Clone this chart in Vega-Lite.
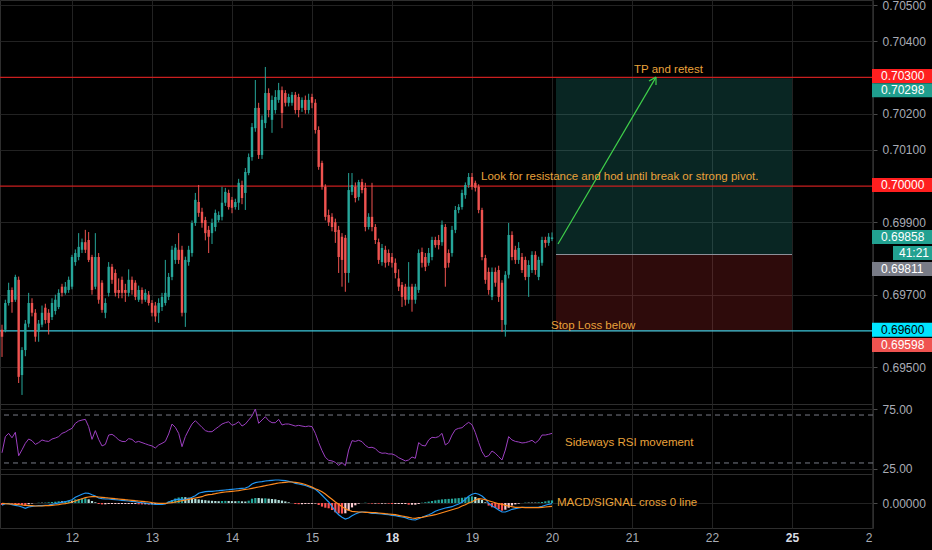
{
  "$schema": "https://vega.github.io/schema/vega-lite/v6.json",
  "background": "#000000",
  "padding": {"left": -2, "top": -2, "right": 0, "bottom": 0},
  "spacing": 0,
  "bounds": "flush",
  "config": {
    "view": {"stroke": "#2e2e2e"},
    "scale": {"continuousPadding": 0},
    "axis": {"labelColor": "#a9acb5", "labelFont": "Liberation Sans", "labelFontSize": 12, "gridColor": "#222222", "tickColor": "#4a4a4a", "domain": false},
    "text": {"font": "Liberation Sans"}
  },
  "datasets": {
    "bars": [
      {"t":-21,"o":0.69603,"h":0.69617,"l":0.69528,"c":0.69584,"r":38.5,"m":-0.000023,"s":-0.000003,"hv":-0.00002,"hc":"r"},
      {"t":-20,"o":0.69603,"h":0.69686,"l":0.69596,"c":0.69677,"r":52,"m":-0.000007,"s":-0.000007,"hv":0,"hc":"g"},
      {"t":-19,"o":0.69677,"h":0.69733,"l":0.6967,"c":0.69713,"r":54.7,"m":-0.000007,"s":-0.000008,"hv":0.000001,"hc":"g"},
      {"t":-18,"o":0.69713,"h":0.6972,"l":0.6965,"c":0.6968,"r":51,"m":-0.000017,"s":-0.00001,"hv":-0.000007,"hc":"r"},
      {"t":-17,"o":0.69686,"h":0.69755,"l":0.6968,"c":0.69749,"r":55.6,"m":-0.000023,"s":-0.000013,"hv":-0.00001,"hc":"r"},
      {"t":-16,"o":0.69741,"h":0.6975,"l":0.69456,"c":0.69473,"r":36,"m":-0.00003,"s":-0.000017,"hv":-0.000013,"hc":"r"},
      {"t":-15,"o":0.69478,"h":0.69555,"l":0.69423,"c":0.69547,"r":41,"m":-0.00004,"s":-0.00002,"hv":-0.00002,"hc":"r"},
      {"t":-14,"o":0.69547,"h":0.6963,"l":0.6953,"c":0.6962,"r":46.4,"m":-0.000053,"s":-0.000023,"hv":-0.00003,"hc":"r"},
      {"t":-13,"o":0.6962,"h":0.69705,"l":0.6961,"c":0.69677,"r":50,"m":-0.00004,"s":-0.000027,"hv":-0.000013,"hc":"lr"},
      {"t":-12,"o":0.69677,"h":0.6969,"l":0.6964,"c":0.6965,"r":48.6,"m":-0.000033,"s":-0.000027,"hv":-0.000006,"hc":"lr"},
      {"t":-11,"o":0.6965,"h":0.6966,"l":0.6957,"c":0.69584,"r":45.5,"m":-0.00003,"s":-0.00003,"hv":0,"hc":"g"},
      {"t":-10,"o":0.69598,"h":0.6963,"l":0.6957,"c":0.6962,"r":47,"m":-0.000027,"s":-0.00003,"hv":0.000003,"hc":"g"},
      {"t":-9,"o":0.69617,"h":0.6967,"l":0.6961,"c":0.6965,"r":49.2,"m":-0.000027,"s":-0.00003,"hv":0.000003,"hc":"lg"},
      {"t":-8,"o":0.69664,"h":0.69675,"l":0.6962,"c":0.6963,"r":48.3,"m":-0.000023,"s":-0.000027,"hv":0.000004,"hc":"g"},
      {"t":-7,"o":0.6965,"h":0.6966,"l":0.6959,"c":0.69622,"r":48,"m":-0.00002,"s":-0.000027,"hv":0.000007,"hc":"g"},
      {"t":-6,"o":0.69638,"h":0.6969,"l":0.6963,"c":0.69677,"r":50,"m":-0.000013,"s":-0.000023,"hv":0.00001,"hc":"g"},
      {"t":-5,"o":0.69655,"h":0.697,"l":0.69645,"c":0.69686,"r":50.8,"m":-0.000007,"s":-0.00002,"hv":0.000013,"hc":"g"},
      {"t":-4,"o":0.69666,"h":0.69715,"l":0.6966,"c":0.69705,"r":52,"m":0,"s":-0.000017,"hv":0.000017,"hc":"g"},
      {"t":-3,"o":0.69722,"h":0.6973,"l":0.69695,"c":0.69705,"r":54.7,"m":0.000007,"s":-0.00001,"hv":0.000017,"hc":"lg"},
      {"t":-2,"o":0.69705,"h":0.69735,"l":0.697,"c":0.69722,"r":55.8,"m":0.000013,"s":-0.000007,"hv":0.00002,"hc":"g"},
      {"t":-1,"o":0.69713,"h":0.6975,"l":0.69705,"c":0.69741,"r":57.5,"m":0.000023,"s":0,"hv":0.000023,"hc":"g"},
      {"t":0,"o":0.69722,"h":0.6981,"l":0.69715,"c":0.69804,"r":58.9,"m":0.000033,"s":0.00001,"hv":0.000023,"hc":"lg"},
      {"t":1,"o":0.6979,"h":0.69825,"l":0.6978,"c":0.69815,"r":63.1,"m":0.000057,"s":0.00002,"hv":0.000037,"hc":"g"},
      {"t":2,"o":0.69804,"h":0.6987,"l":0.69795,"c":0.69832,"r":65,"m":0.000073,"s":0.000033,"hv":0.00004,"hc":"g"},
      {"t":3,"o":0.69824,"h":0.69855,"l":0.69815,"c":0.69845,"r":65.8,"m":0.000087,"s":0.000043,"hv":0.000044,"hc":"g"},
      {"t":4,"o":0.69845,"h":0.69879,"l":0.69815,"c":0.69824,"r":66.4,"m":0.0001,"s":0.000053,"hv":0.000047,"hc":"g"},
      {"t":5,"o":0.69851,"h":0.69873,"l":0.6979,"c":0.69796,"r":60.3,"m":0.000097,"s":0.00006,"hv":0.000037,"hc":"lg"},
      {"t":6,"o":0.69804,"h":0.6981,"l":0.697,"c":0.69713,"r":49.7,"m":0.000083,"s":0.000063,"hv":0.00002,"hc":"lg"},
      {"t":7,"o":0.69722,"h":0.6987,"l":0.69715,"c":0.69804,"r":57,"m":0.00007,"s":0.000063,"hv":0.000007,"hc":"lg"},
      {"t":8,"o":0.69804,"h":0.69815,"l":0.69675,"c":0.69686,"r":49.7,"m":0.00005,"s":0.00006,"hv":-0.00001,"hc":"r"},
      {"t":9,"o":0.69733,"h":0.6974,"l":0.6965,"c":0.69658,"r":44.2,"m":0.000043,"s":0.000057,"hv":-0.000014,"hc":"r"},
      {"t":10,"o":0.6965,"h":0.6969,"l":0.69635,"c":0.69677,"r":45.5,"m":0.00004,"s":0.000053,"hv":-0.000013,"hc":"lr"},
      {"t":11,"o":0.69705,"h":0.6979,"l":0.69695,"c":0.69777,"r":53.3,"m":0.00004,"s":0.00005,"hv":-0.00001,"hc":"lr"},
      {"t":12,"o":0.69777,"h":0.69785,"l":0.6973,"c":0.69741,"r":53.9,"m":0.000037,"s":0.000047,"hv":-0.00001,"hc":"lr"},
      {"t":13,"o":0.6976,"h":0.6977,"l":0.69695,"c":0.69705,"r":52,"m":0.000033,"s":0.000043,"hv":-0.00001,"hc":"lr"},
      {"t":14,"o":0.69713,"h":0.69745,"l":0.6969,"c":0.69705,"r":49.2,"m":0.00003,"s":0.00004,"hv":-0.00001,"hc":"lr"},
      {"t":15,"o":0.69741,"h":0.6975,"l":0.6969,"c":0.69705,"r":48,"m":0.000027,"s":0.000037,"hv":-0.00001,"hc":"lr"},
      {"t":16,"o":0.69713,"h":0.6973,"l":0.6968,"c":0.69705,"r":47.8,"m":0.000023,"s":0.000033,"hv":-0.00001,"hc":"lr"},
      {"t":17,"o":0.69705,"h":0.6977,"l":0.69695,"c":0.69741,"r":50.3,"m":0.00002,"s":0.00003,"hv":-0.00001,"hc":"lr"},
      {"t":18,"o":0.69741,"h":0.6975,"l":0.697,"c":0.69713,"r":49.7,"m":0.000017,"s":0.000027,"hv":-0.00001,"hc":"lr"},
      {"t":19,"o":0.69733,"h":0.6974,"l":0.69685,"c":0.69694,"r":47.2,"m":0.000013,"s":0.000023,"hv":-0.00001,"hc":"lr"},
      {"t":20,"o":0.69686,"h":0.69725,"l":0.6968,"c":0.69713,"r":48,"m":0.000007,"s":0.00002,"hv":-0.000013,"hc":"r"},
      {"t":21,"o":0.69713,"h":0.6972,"l":0.69675,"c":0.69686,"r":47,"m":0.000003,"s":0.000017,"hv":-0.000014,"hc":"r"},
      {"t":22,"o":0.69686,"h":0.69715,"l":0.6968,"c":0.69705,"r":46,"m":0,"s":0.000013,"hv":-0.000013,"hc":"lr"},
      {"t":23,"o":0.697,"h":0.6971,"l":0.6967,"c":0.69677,"r":45,"m":-0.000007,"s":0.00001,"hv":-0.000017,"hc":"r"},
      {"t":24,"o":0.69677,"h":0.69685,"l":0.6964,"c":0.6965,"r":44.2,"m":-0.00001,"s":0.000003,"hv":-0.000013,"hc":"lr"},
      {"t":25,"o":0.6967,"h":0.6968,"l":0.69625,"c":0.6964,"r":42.5,"m":-0.000013,"s":0,"hv":-0.000013,"hc":"lr"},
      {"t":26,"o":0.6965,"h":0.6969,"l":0.69622,"c":0.69677,"r":45,"m":-0.000013,"s":-0.000003,"hv":-0.00001,"hc":"lr"},
      {"t":27,"o":0.69666,"h":0.69705,"l":0.69655,"c":0.69694,"r":46.4,"m":-0.000013,"s":-0.000003,"hv":-0.00001,"hc":"lr"},
      {"t":28,"o":0.69677,"h":0.69796,"l":0.6967,"c":0.69705,"r":48,"m":-0.00001,"s":-0.000003,"hv":-0.000007,"hc":"lr"},
      {"t":29,"o":0.69694,"h":0.6976,"l":0.69685,"c":0.69749,"r":54.2,"m":0.00001,"s":0,"hv":0.000015,"hc":"g"},
      {"t":30,"o":0.69749,"h":0.69835,"l":0.6974,"c":0.69824,"r":62.5,"m":0.000023,"s":0.000003,"hv":0.00003,"hc":"g"},
      {"t":31,"o":0.69796,"h":0.6984,"l":0.69785,"c":0.6983,"r":59.7,"m":0.000033,"s":0.00001,"hv":0.000045,"hc":"g"},
      {"t":32,"o":0.69824,"h":0.6987,"l":0.69785,"c":0.69796,"r":54.7,"m":0.000037,"s":0.000017,"hv":0.000055,"hc":"g"},
      {"t":33,"o":0.69824,"h":0.69835,"l":0.6964,"c":0.6965,"r":43.6,"m":0.000037,"s":0.000023,"hv":0.00006,"hc":"g"},
      {"t":34,"o":0.6965,"h":0.69805,"l":0.69611,"c":0.69796,"r":52,"m":0.000037,"s":0.00003,"hv":0.000058,"hc":"lg"},
      {"t":35,"o":0.6979,"h":0.69835,"l":0.6978,"c":0.69824,"r":57.5,"m":0.000043,"s":0.000037,"hv":0.000053,"hc":"lg"},
      {"t":36,"o":0.69815,"h":0.69905,"l":0.69805,"c":0.69898,"r":62.5,"m":0.000057,"s":0.000043,"hv":0.000048,"hc":"lg"},
      {"t":37,"o":0.69898,"h":0.69981,"l":0.6989,"c":0.69962,"r":65.3,"m":0.000073,"s":0.00005,"hv":0.000042,"hc":"lg"},
      {"t":38,"o":0.69956,"h":0.70003,"l":0.69915,"c":0.69926,"r":62.5,"m":0.000097,"s":0.000057,"hv":0.000036,"hc":"lg"},
      {"t":39,"o":0.69929,"h":0.6994,"l":0.69885,"c":0.69898,"r":59.7,"m":0.000107,"s":0.000063,"hv":0.000032,"hc":"lg"},
      {"t":40,"o":0.69906,"h":0.69915,"l":0.6985,"c":0.6987,"r":57,"m":0.000113,"s":0.000077,"hv":0.000028,"hc":"lg"},
      {"t":41,"o":0.69879,"h":0.6989,"l":0.69815,"c":0.6986,"r":56.1,"m":0.000117,"s":0.000083,"hv":0.000024,"hc":"lg"},
      {"t":42,"o":0.6987,"h":0.6991,"l":0.6984,"c":0.69898,"r":56.1,"m":0.000117,"s":0.000087,"hv":0.000022,"hc":"lg"},
      {"t":43,"o":0.69887,"h":0.69935,"l":0.69875,"c":0.69926,"r":58.3,"m":0.00012,"s":0.000093,"hv":0.00002,"hc":"lg"},
      {"t":44,"o":0.69906,"h":0.6993,"l":0.699,"c":0.6992,"r":60.3,"m":0.000123,"s":0.0001,"hv":0.000018,"hc":"lg"},
      {"t":45,"o":0.69915,"h":0.69998,"l":0.69905,"c":0.69954,"r":62.5,"m":0.000127,"s":0.000107,"hv":0.00002,"hc":"g"},
      {"t":46,"o":0.69954,"h":0.69995,"l":0.69945,"c":0.69984,"r":63.6,"m":0.00013,"s":0.00011,"hv":0.000021,"hc":"g"},
      {"t":47,"o":0.69981,"h":0.6999,"l":0.69935,"c":0.69942,"r":64.4,"m":0.000133,"s":0.000113,"hv":0.00002,"hc":"lg"},
      {"t":48,"o":0.69962,"h":0.6997,"l":0.69925,"c":0.6994,"r":61.4,"m":0.000137,"s":0.000117,"hv":0.000019,"hc":"lg"},
      {"t":49,"o":0.69942,"h":0.69965,"l":0.69935,"c":0.69956,"r":62.5,"m":0.00014,"s":0.00012,"hv":0.000018,"hc":"lg"},
      {"t":50,"o":0.69954,"h":0.7002,"l":0.69934,"c":0.70009,"r":64.4,"m":0.000143,"s":0.000123,"hv":0.00002,"hc":"g"},
      {"t":51,"o":0.70003,"h":0.70015,"l":0.6995,"c":0.69967,"r":60.8,"m":0.000147,"s":0.00013,"hv":0.000017,"hc":"lg"},
      {"t":52,"o":0.69981,"h":0.7005,"l":0.69934,"c":0.70039,"r":62.5,"m":0.00015,"s":0.000137,"hv":0.000015,"hc":"lg"},
      {"t":53,"o":0.70036,"h":0.7009,"l":0.7003,"c":0.7008,"r":65.8,"m":0.000163,"s":0.00014,"hv":0.000023,"hc":"g"},
      {"t":54,"o":0.7008,"h":0.70174,"l":0.7007,"c":0.70163,"r":69.2,"m":0.00019,"s":0.000147,"hv":0.000043,"hc":"g"},
      {"t":55,"o":0.7016,"h":0.70293,"l":0.7015,"c":0.70216,"r":75,"m":0.000203,"s":0.000153,"hv":0.00005,"hc":"g"},
      {"t":56,"o":0.70216,"h":0.7023,"l":0.70075,"c":0.70086,"r":63.1,"m":0.00021,"s":0.00016,"hv":0.00005,"hc":"lg"},
      {"t":57,"o":0.70086,"h":0.70195,"l":0.70075,"c":0.70183,"r":65.8,"m":0.000213,"s":0.000167,"hv":0.000046,"hc":"lg"},
      {"t":58,"o":0.70174,"h":0.70329,"l":0.7016,"c":0.70257,"r":68.6,"m":0.00022,"s":0.000173,"hv":0.000047,"hc":"g"},
      {"t":59,"o":0.70257,"h":0.7027,"l":0.7019,"c":0.7021,"r":65.3,"m":0.000223,"s":0.00018,"hv":0.000043,"hc":"lg"},
      {"t":60,"o":0.70183,"h":0.7025,"l":0.70147,"c":0.70238,"r":63.6,"m":0.000227,"s":0.000187,"hv":0.00004,"hc":"lg"},
      {"t":61,"o":0.7021,"h":0.70265,"l":0.702,"c":0.70246,"r":63.6,"m":0.00023,"s":0.000193,"hv":0.000037,"hc":"lg"},
      {"t":62,"o":0.70238,"h":0.70285,"l":0.7023,"c":0.70265,"r":66.4,"m":0.00023,"s":0.0002,"hv":0.00003,"hc":"lg"},
      {"t":63,"o":0.70265,"h":0.70275,"l":0.7016,"c":0.70202,"r":61.7,"m":0.000227,"s":0.000203,"hv":0.000024,"hc":"lg"},
      {"t":64,"o":0.70257,"h":0.70265,"l":0.7022,"c":0.7023,"r":62.5,"m":0.000223,"s":0.000207,"hv":0.000016,"hc":"lg"},
      {"t":65,"o":0.7023,"h":0.70255,"l":0.7022,"c":0.70246,"r":62.5,"m":0.000217,"s":0.00021,"hv":0.000007,"hc":"lg"},
      {"t":66,"o":0.7023,"h":0.7026,"l":0.70222,"c":0.70252,"r":61.7,"m":0.00021,"s":0.00021,"hv":0,"hc":"lg"},
      {"t":67,"o":0.70252,"h":0.7026,"l":0.702,"c":0.7021,"r":60.8,"m":0.000197,"s":0.000207,"hv":-0.00001,"hc":"r"},
      {"t":68,"o":0.70246,"h":0.70255,"l":0.7019,"c":0.7021,"r":61.4,"m":0.00019,"s":0.000202,"hv":-0.000012,"hc":"r"},
      {"t":69,"o":0.70216,"h":0.70245,"l":0.70205,"c":0.70238,"r":60.8,"m":0.000183,"s":0.000195,"hv":-0.000012,"hc":"lr"},
      {"t":70,"o":0.70238,"h":0.7025,"l":0.702,"c":0.7021,"r":60.3,"m":0.000175,"s":0.000185,"hv":-0.00001,"hc":"lr"},
      {"t":71,"o":0.7021,"h":0.70255,"l":0.702,"c":0.70238,"r":60.8,"m":0.000163,"s":0.000172,"hv":-0.000009,"hc":"lr"},
      {"t":72,"o":0.70246,"h":0.70255,"l":0.70215,"c":0.7023,"r":60.3,"m":0.00015,"s":0.000159,"hv":-0.000009,"hc":"lr"},
      {"t":73,"o":0.7023,"h":0.7024,"l":0.70145,"c":0.70155,"r":54.7,"m":0.000137,"s":0.000143,"hv":-0.000006,"hc":"lr"},
      {"t":74,"o":0.70155,"h":0.70165,"l":0.70045,"c":0.70053,"r":47,"m":0.00011,"s":0.00013,"hv":-0.00002,"hc":"r"},
      {"t":75,"o":0.70064,"h":0.7007,"l":0.6999,"c":0.69998,"r":40.3,"m":0.000077,"s":0.000113,"hv":-0.000036,"hc":"r"},
      {"t":76,"o":0.69998,"h":0.70005,"l":0.69905,"c":0.69915,"r":34.7,"m":0.000043,"s":0.00009,"hv":-0.000047,"hc":"r"},
      {"t":77,"o":0.6992,"h":0.69935,"l":0.6989,"c":0.699,"r":32.2,"m":0.00001,"s":0.000063,"hv":-0.000053,"hc":"r"},
      {"t":78,"o":0.69915,"h":0.69925,"l":0.69875,"c":0.69887,"r":31.7,"m":-0.000033,"s":0.000037,"hv":-0.00007,"hc":"r"},
      {"t":79,"o":0.699,"h":0.6991,"l":0.69843,"c":0.69873,"r":30.5,"m":-0.000083,"s":0.00001,"hv":-0.000093,"hc":"r"},
      {"t":80,"o":0.69879,"h":0.6989,"l":0.6976,"c":0.69804,"r":28,"m":-0.000117,"s":-0.000013,"hv":-0.000104,"hc":"r"},
      {"t":81,"o":0.6986,"h":0.6987,"l":0.69722,"c":0.69796,"r":30.3,"m":-0.000143,"s":-0.000037,"hv":-0.000106,"hc":"r"},
      {"t":82,"o":0.69857,"h":0.69865,"l":0.69708,"c":0.6976,"r":27.8,"m":-0.00016,"s":-0.000057,"hv":-0.000103,"hc":"lr"},
      {"t":83,"o":0.6976,"h":0.70036,"l":0.69733,"c":0.69989,"r":40.8,"m":-0.00015,"s":-0.000073,"hv":-0.000077,"hc":"lr"},
      {"t":84,"o":0.69984,"h":0.70036,"l":0.69975,"c":0.70003,"r":48.6,"m":-0.000127,"s":-0.000083,"hv":-0.000044,"hc":"lr"},
      {"t":85,"o":0.69998,"h":0.7001,"l":0.69955,"c":0.69967,"r":48,"m":-0.00011,"s":-0.000087,"hv":-0.000023,"hc":"lr"},
      {"t":86,"o":0.6997,"h":0.70017,"l":0.6996,"c":0.70011,"r":48.9,"m":-0.000097,"s":-0.00009,"hv":-0.000007,"hc":"lr"},
      {"t":87,"o":0.70011,"h":0.7002,"l":0.6998,"c":0.69989,"r":47.8,"m":-0.00009,"s":-0.00009,"hv":0,"hc":"g"},
      {"t":88,"o":0.69995,"h":0.70009,"l":0.69875,"c":0.69887,"r":44.7,"m":-0.00009,"s":-0.000093,"hv":0.000003,"hc":"g"},
      {"t":89,"o":0.69887,"h":0.69925,"l":0.6988,"c":0.69915,"r":42.8,"m":-0.000097,"s":-0.000093,"hv":-0.000004,"hc":"r"},
      {"t":90,"o":0.69915,"h":0.70009,"l":0.69875,"c":0.69887,"r":43.1,"m":-0.000103,"s":-0.000097,"hv":-0.000006,"hc":"r"},
      {"t":91,"o":0.69887,"h":0.69895,"l":0.6984,"c":0.69851,"r":42,"m":-0.000103,"s":-0.000097,"hv":-0.000006,"hc":"lr"},
      {"t":92,"o":0.69845,"h":0.69855,"l":0.69785,"c":0.69796,"r":39.2,"m":-0.000107,"s":-0.0001,"hv":-0.000007,"hc":"r"},
      {"t":93,"o":0.6979,"h":0.6984,"l":0.6978,"c":0.69829,"r":38.1,"m":-0.00011,"s":-0.000103,"hv":-0.000007,"hc":"lr"},
      {"t":94,"o":0.69824,"h":0.69835,"l":0.69775,"c":0.69788,"r":38.3,"m":-0.000113,"s":-0.000107,"hv":-0.000006,"hc":"lr"},
      {"t":95,"o":0.69815,"h":0.69825,"l":0.6978,"c":0.6979,"r":37.5,"m":-0.000117,"s":-0.00011,"hv":-0.000007,"hc":"r"},
      {"t":96,"o":0.69804,"h":0.69815,"l":0.69775,"c":0.69788,"r":37.5,"m":-0.000123,"s":-0.000113,"hv":-0.00001,"hc":"r"},
      {"t":97,"o":0.69788,"h":0.698,"l":0.69745,"c":0.6976,"r":36.4,"m":-0.000127,"s":-0.000117,"hv":-0.00001,"hc":"lr"},
      {"t":98,"o":0.69745,"h":0.6977,"l":0.6971,"c":0.69722,"r":34.4,"m":-0.000133,"s":-0.000123,"hv":-0.00001,"hc":"lr"},
      {"t":99,"o":0.69727,"h":0.69735,"l":0.69666,"c":0.69694,"r":33.1,"m":-0.00014,"s":-0.00013,"hv":-0.00001,"hc":"lr"},
      {"t":100,"o":0.69722,"h":0.6973,"l":0.6967,"c":0.69686,"r":31.7,"m":-0.000147,"s":-0.000137,"hv":-0.00001,"hc":"lr"},
      {"t":101,"o":0.69686,"h":0.6979,"l":0.69675,"c":0.69722,"r":32.5,"m":-0.00016,"s":-0.000143,"hv":-0.000017,"hc":"r"},
      {"t":102,"o":0.69722,"h":0.6973,"l":0.69653,"c":0.69686,"r":35,"m":-0.000167,"s":-0.00015,"hv":-0.000017,"hc":"lr"},
      {"t":103,"o":0.69686,"h":0.6973,"l":0.69675,"c":0.69722,"r":33.9,"m":-0.00017,"s":-0.000153,"hv":-0.000017,"hc":"lr"},
      {"t":104,"o":0.69713,"h":0.69825,"l":0.69705,"c":0.69815,"r":47,"m":-0.000157,"s":-0.000147,"hv":-0.00001,"hc":"lr"},
      {"t":105,"o":0.69818,"h":0.6983,"l":0.69775,"c":0.69788,"r":44.7,"m":-0.000143,"s":-0.000143,"hv":0.000003,"hc":"g"},
      {"t":106,"o":0.69804,"h":0.69815,"l":0.69765,"c":0.69777,"r":44.2,"m":-0.00013,"s":-0.000137,"hv":0.000008,"hc":"g"},
      {"t":107,"o":0.69788,"h":0.69829,"l":0.6978,"c":0.69815,"r":49.2,"m":-0.000117,"s":-0.00013,"hv":0.000014,"hc":"g"},
      {"t":108,"o":0.69804,"h":0.6986,"l":0.69795,"c":0.69851,"r":51.4,"m":-0.000103,"s":-0.000123,"hv":0.00002,"hc":"g"},
      {"t":109,"o":0.69851,"h":0.6986,"l":0.6983,"c":0.69837,"r":51.1,"m":-0.000083,"s":-0.000117,"hv":0.000026,"hc":"g"},
      {"t":110,"o":0.69851,"h":0.69865,"l":0.69825,"c":0.69837,"r":52,"m":-0.00007,"s":-0.000107,"hv":0.000032,"hc":"g"},
      {"t":111,"o":0.69845,"h":0.69905,"l":0.69835,"c":0.69893,"r":54.7,"m":-0.00006,"s":-0.000097,"hv":0.000036,"hc":"g"},
      {"t":112,"o":0.69887,"h":0.69895,"l":0.69722,"c":0.69774,"r":45,"m":-0.00005,"s":-0.000087,"hv":0.000039,"hc":"g"},
      {"t":113,"o":0.69815,"h":0.69825,"l":0.69775,"c":0.69788,"r":47,"m":-0.000043,"s":-0.000077,"hv":0.000041,"hc":"g"},
      {"t":114,"o":0.69815,"h":0.6989,"l":0.69805,"c":0.69879,"r":53.3,"m":-0.000037,"s":-0.000067,"hv":0.000043,"hc":"g"},
      {"t":115,"o":0.69879,"h":0.69945,"l":0.6987,"c":0.69934,"r":57.8,"m":-0.000023,"s":-0.000057,"hv":0.000046,"hc":"g"},
      {"t":116,"o":0.69934,"h":0.6995,"l":0.69925,"c":0.69942,"r":58.9,"m":-0.00001,"s":-0.000047,"hv":0.000049,"hc":"g"},
      {"t":117,"o":0.69942,"h":0.6999,"l":0.69935,"c":0.69981,"r":59.4,"m":0.000007,"s":-0.00003,"hv":0.000052,"hc":"g"},
      {"t":118,"o":0.69975,"h":0.7001,"l":0.69965,"c":0.70003,"r":61.9,"m":0.000037,"s":-0.000017,"hv":0.000056,"hc":"g"},
      {"t":119,"o":0.70003,"h":0.70036,"l":0.69995,"c":0.70025,"r":63.9,"m":0.000067,"s":0,"hv":0.000062,"hc":"g"},
      {"t":120,"o":0.70025,"h":0.70036,"l":0.6999,"c":0.69998,"r":61.9,"m":0.000087,"s":0.000013,"hv":0.000066,"hc":"g"},
      {"t":121,"o":0.70009,"h":0.70015,"l":0.69985,"c":0.69995,"r":55.3,"m":0.000097,"s":0.00003,"hv":0.00006,"hc":"lg"},
      {"t":122,"o":0.69998,"h":0.70005,"l":0.69925,"c":0.69934,"r":47,"m":0.000087,"s":0.000043,"hv":0.000044,"hc":"lg"},
      {"t":123,"o":0.69934,"h":0.6994,"l":0.69795,"c":0.69804,"r":39.4,"m":0.00007,"s":0.00004,"hv":0.00003,"hc":"lg"},
      {"t":124,"o":0.69801,"h":0.6981,"l":0.6973,"c":0.69741,"r":35,"m":0.00004,"s":0.000033,"hv":0.000007,"hc":"lg"},
      {"t":125,"o":0.69763,"h":0.69775,"l":0.697,"c":0.69713,"r":36.1,"m":-0.000003,"s":0.000023,"hv":-0.000026,"hc":"r"},
      {"t":126,"o":0.69694,"h":0.69775,"l":0.69685,"c":0.69763,"r":40,"m":-0.00003,"s":0.000013,"hv":-0.000043,"hc":"r"},
      {"t":127,"o":0.69763,"h":0.69775,"l":0.69722,"c":0.69733,"r":38.1,"m":-0.000047,"s":0.000003,"hv":-0.00005,"hc":"r"},
      {"t":128,"o":0.69768,"h":0.6978,"l":0.6968,"c":0.69694,"r":35.3,"m":-0.00007,"s":-0.000007,"hv":-0.000063,"hc":"r"},
      {"t":129,"o":0.69733,"h":0.6974,"l":0.69597,"c":0.6963,"r":32.5,"m":-0.00009,"s":-0.000013,"hv":-0.000077,"hc":"r"},
      {"t":130,"o":0.69617,"h":0.69765,"l":0.69584,"c":0.69755,"r":40.8,"m":-0.00009,"s":-0.000023,"hv":-0.000067,"hc":"lr"},
      {"t":131,"o":0.69755,"h":0.69898,"l":0.69745,"c":0.69865,"r":52,"m":-0.000077,"s":-0.00003,"hv":-0.000047,"hc":"lr"},
      {"t":132,"o":0.69865,"h":0.69875,"l":0.69795,"c":0.69804,"r":49.2,"m":-0.000063,"s":-0.000037,"hv":-0.000026,"hc":"lr"},
      {"t":133,"o":0.69824,"h":0.69835,"l":0.69785,"c":0.69796,"r":48,"m":-0.000057,"s":-0.000043,"hv":-0.000014,"hc":"lr"},
      {"t":134,"o":0.69796,"h":0.69845,"l":0.69785,"c":0.69829,"r":47.5,"m":-0.00005,"s":-0.000043,"hv":-0.000007,"hc":"lr"},
      {"t":135,"o":0.69804,"h":0.69815,"l":0.6976,"c":0.69768,"r":46.7,"m":-0.000043,"s":-0.000043,"hv":0,"hc":"g"},
      {"t":136,"o":0.69796,"h":0.69805,"l":0.6974,"c":0.69749,"r":47,"m":-0.000043,"s":-0.000047,"hv":0.000004,"hc":"g"},
      {"t":137,"o":0.69749,"h":0.69795,"l":0.69694,"c":0.69782,"r":47.8,"m":-0.000043,"s":-0.000047,"hv":0.000004,"hc":"lg"},
      {"t":138,"o":0.69768,"h":0.6982,"l":0.6976,"c":0.6981,"r":48.9,"m":-0.000043,"s":-0.000047,"hv":0.000004,"hc":"lg"},
      {"t":139,"o":0.6981,"h":0.6982,"l":0.69755,"c":0.69768,"r":46.7,"m":-0.000043,"s":-0.000047,"hv":0.000004,"hc":"lg"},
      {"t":140,"o":0.69749,"h":0.69805,"l":0.6974,"c":0.69796,"r":48.9,"m":-0.00004,"s":-0.000047,"hv":0.000007,"hc":"g"},
      {"t":141,"o":0.69788,"h":0.6986,"l":0.6978,"c":0.69851,"r":53.3,"m":-0.000033,"s":-0.000043,"hv":0.00001,"hc":"g"},
      {"t":142,"o":0.69851,"h":0.6986,"l":0.6983,"c":0.69843,"r":53.3,"m":-0.000023,"s":-0.00004,"hv":0.000017,"hc":"g"},
      {"t":143,"o":0.69843,"h":0.6987,"l":0.69835,"c":0.6986,"r":53.9,"m":-0.000013,"s":-0.000037,"hv":0.000024,"hc":"g"},
      {"t":144,"o":0.69854,"h":0.69872,"l":0.69848,"c":0.69858,"r":54.7,"m":-0.000007,"s":-0.000033,"hv":0.000026,"hc":"g"}
    ],
    "levels": [
      {"p": 0.703, "kind": "res"},
      {"p": 0.7, "kind": "res"},
      {"p": 0.696, "kind": "sup"}
    ],
    "box": [
      {"t1": 145.2, "t2": 216, "p1": 0.69811, "p2": 0.70298, "kind": "profit"},
      {"t1": 145.2, "t2": 216, "p1": 0.69598, "p2": 0.69811, "kind": "loss"}
    ],
    "entry": [
      {"t1": 145.2, "t2": 216, "p": 0.69811}
    ],
    "arrow": [
      {"t1": 145.8, "p1": 0.6984, "t2": 175.2, "p2": 0.70301},
      {"t1": 175.2, "p1": 0.70301, "t2": 173.1, "p2": 0.7029},
      {"t1": 175.2, "p1": 0.70301, "t2": 175.2, "p2": 0.70279}
    ],
    "badges": [
      {"t1": 240, "t2": 258, "tx": 242.7, "pos": 0.70304, "label": "0.70300", "kind": "res"},
      {"t1": 240, "t2": 258, "tx": 242.7, "pos": 0.70265, "label": "0.70298", "kind": "tp"},
      {"t1": 240, "t2": 258, "tx": 242.7, "pos": 0.70003, "label": "0.70000", "kind": "res"},
      {"t1": 240, "t2": 258, "tx": 242.7, "pos": 0.69859, "label": "0.69858", "kind": "last"},
      {"t1": 246.3, "t2": 258, "tx": 248.1, "pos": 0.69815, "label": "41:21", "kind": "last"},
      {"t1": 240, "t2": 258, "tx": 242.7, "pos": 0.69771, "label": "0.69811", "kind": "entry"},
      {"t1": 240, "t2": 258, "tx": 242.7, "pos": 0.69603, "label": "0.69600", "kind": "sup"},
      {"t1": 240, "t2": 258, "tx": 242.7, "pos": 0.69561, "label": "0.69598", "kind": "sl"}
    ],
    "notes": [
      {"panel": "main", "t": 168.6, "v": 0.70321, "text": "TP and retest"},
      {"panel": "main", "t": 122.7, "v": 0.70025, "text": "Look for resistance and hod until break or strong pivot."},
      {"panel": "main", "t": 143.7, "v": 0.69614, "text": "Stop Loss below"},
      {"panel": "rsi", "t": 147.9, "v": 46.7, "text": "Sideways RSI movement"},
      {"panel": "macd", "t": 145.5, "v": 0, "text": "MACD/SIGNAL cross 0 line"}
    ]
  },
  "vconcat": [
    {
      "width": 873,
      "height": 404,
      "resolve": {"scale": {"color": "independent"}},
      "layer": [
        {
          "data": {"name": "box"},
          "mark": {"type": "rect", "opacity": 0.2},
          "encoding": {
            "x": {"field": "t1", "type": "quantitative", "scale": {"domain": [-21.6, 240.3], "nice": false, "zero": false, "padding": 0},
              "axis": {"values": [0, 24, 48, 72, 96, 120, 144, 168, 192, 216, 240], "labels": false, "ticks": false, "grid": true, "minExtent": 0, "maxExtent": 0, "title": null}},
            "x2": {"field": "t2"},
            "y": {"field": "p1", "type": "quantitative", "scale": {"domain": [0.69398, 0.70514], "nice": false, "zero": false, "padding": 0},
              "axis": {"orient": "right", "values": [0.695, 0.697, 0.699, 0.701, 0.702, 0.704, 0.705], "format": ".5f", "grid": true, "tickSize": 4, "labelPadding": 5, "minExtent": 59, "maxExtent": 59, "title": null}},
            "y2": {"field": "p2"},
            "color": {"field": "kind", "type": "nominal", "legend": null,
              "scale": {"domain": ["profit", "loss"], "range": ["#2bbfb0", "#e53935"]}}
          }
        },
        {
          "data": {"name": "levels"},
          "transform": [{"filter": "datum.kind === 'res'"}],
          "mark": {"type": "rule", "strokeWidth": 1.2, "color": "#c91f1f"},
          "encoding": {
            "y": {"field": "p", "type": "quantitative", "title": null}
          }
        },
        {
          "data": {"name": "levels"},
          "transform": [{"filter": "datum.kind === 'sup'"}],
          "mark": {"type": "rule", "strokeWidth": 1.2, "color": "#3cc8dc"},
          "encoding": {
            "y": {"field": "p", "type": "quantitative", "title": null}
          }
        },
        {
          "mark": {"type": "rule", "color": "#26a69a", "strokeDash": [1, 3], "strokeWidth": 1},
          "encoding": {"y": {"datum": 0.69858, "type": "quantitative"}}
        },
        {
          "data": {"name": "entry"},
          "mark": {"type": "rule", "color": "#8d9099", "strokeWidth": 1.2},
          "encoding": {
            "x": {"field": "t1", "type": "quantitative", "title": null},
            "x2": {"field": "t2"},
            "y": {"field": "p", "type": "quantitative", "title": null}
          }
        },
        {
          "data": {"name": "bars"},
          "mark": {"type": "rule", "strokeWidth": 1},
          "encoding": {
            "x": {"field": "t", "type": "quantitative", "title": null},
            "y": {"field": "l", "type": "quantitative", "title": null},
            "y2": {"field": "h"},
            "color": {"condition": {"test": "datum.c >= datum.o", "value": "#26a69a"}, "value": "#ef5350"}
          }
        },
        {
          "data": {"name": "bars"},
          "mark": {"type": "bar", "size": 2.4},
          "encoding": {
            "x": {"field": "t", "type": "quantitative", "title": null},
            "y": {"field": "o", "type": "quantitative", "title": null},
            "y2": {"field": "c"},
            "color": {"condition": {"test": "datum.c >= datum.o", "value": "#26a69a"}, "value": "#ef5350"}
          }
        },
        {
          "data": {"name": "arrow"},
          "mark": {"type": "rule", "color": "#3fcf4a", "strokeWidth": 1.2},
          "encoding": {
            "x": {"field": "t1", "type": "quantitative", "title": null},
            "x2": {"field": "t2"},
            "y": {"field": "p1", "type": "quantitative", "title": null},
            "y2": {"field": "p2"}
          }
        },
        {
          "data": {"name": "notes"},
          "transform": [{"filter": "datum.panel === 'main'"}],
          "mark": {"type": "text", "align": "left", "baseline": "middle", "fontSize": 11.5, "color": "#e9a23b"},
          "encoding": {
            "x": {"field": "t", "type": "quantitative", "title": null},
            "y": {"field": "v", "type": "quantitative", "title": null},
            "text": {"field": "text"}
          }
        },
        {
          "data": {"name": "badges"},
          "mark": {"type": "bar", "size": 14},
          "encoding": {
            "x": {"field": "t1", "type": "quantitative", "title": null},
            "x2": {"field": "t2"},
            "y": {"field": "pos", "type": "quantitative", "title": null},
            "color": {"field": "kind", "type": "nominal", "legend": null,
              "scale": {"domain": ["res", "tp", "last", "entry", "sup", "sl"], "range": ["#ff1f1f", "#1f9e8e", "#22a191", "#787b86", "#00e5ff", "#ef5350"]}}
          }
        },
        {
          "data": {"name": "badges"},
          "mark": {"type": "text", "align": "left", "baseline": "middle", "fontSize": 12},
          "encoding": {
            "x": {"field": "tx", "type": "quantitative", "title": null},
            "y": {"field": "pos", "type": "quantitative", "title": null},
            "text": {"field": "label"},
            "color": {"condition": {"test": "datum.kind === 'sup'", "value": "#000000"}, "value": "#ffffff"}
          }
        }
      ]
    },
    {
      "width": 873,
      "height": 70,
      "layer": [
        {
          "mark": {"type": "rect", "color": "#7e57c2", "opacity": 0.13},
          "encoding": {
            "x": {"datum": -21.6, "type": "quantitative", "scale": {"domain": [-21.6, 240.3], "nice": false, "zero": false, "padding": 0},
              "axis": {"values": [0, 24, 48, 72, 96, 120, 144, 168, 192, 216, 240], "labels": false, "ticks": false, "grid": true, "minExtent": 0, "maxExtent": 0, "title": null}},
            "x2": {"datum": 240.3},
            "y": {"datum": 30, "type": "quantitative", "scale": {"domain": [20.8, 79.2], "nice": false, "zero": false, "padding": 0},
              "axis": {"orient": "right", "values": [25, 50, 75], "format": ".2f", "grid": true, "tickSize": 4, "labelPadding": 5, "minExtent": 59, "maxExtent": 59, "title": null}},
            "y2": {"datum": 70}
          }
        },
        {
          "data": {"values": [{"v": 70}, {"v": 30}]},
          "mark": {"type": "rule", "color": "#787b86", "strokeDash": [5, 4], "strokeWidth": 1},
          "encoding": {"y": {"field": "v", "type": "quantitative", "title": null}}
        },
        {
          "data": {"name": "bars"},
          "mark": {"type": "line", "color": "#9c3fc0", "strokeWidth": 1},
          "encoding": {
            "x": {"field": "t", "type": "quantitative", "title": null},
            "y": {"field": "r", "type": "quantitative", "title": null}
          }
        },
        {
          "data": {"name": "notes"},
          "transform": [{"filter": "datum.panel === 'rsi'"}],
          "mark": {"type": "text", "align": "left", "baseline": "middle", "fontSize": 11.5, "color": "#e9a23b"},
          "encoding": {
            "x": {"field": "t", "type": "quantitative", "title": null},
            "y": {"field": "v", "type": "quantitative", "title": null},
            "text": {"field": "text"}
          }
        }
      ]
    },
    {
      "width": 873,
      "height": 54,
      "layer": [
        {
          "data": {"name": "bars"},
          "mark": {"type": "bar", "size": 2.2},
          "encoding": {
            "x": {"field": "t", "type": "quantitative", "scale": {"domain": [-21.6, 240.3], "nice": false, "zero": false, "padding": 0},
              "axis": {"values": [0, 24, 48, 72, 96, 120, 144, 168, 192, 216, 240], "grid": true, "tickSize": 0, "labelPadding": 4, "minExtent": 22, "maxExtent": 22, "title": null,
                "labelExpr": "['12','13','14','15','18','19','20','21','22','25','2'][round(datum.value / 24)]",
                "labelFontWeight": {"condition": {"test": "datum.value == 96 || datum.value == 216", "value": "bold"}, "value": "normal"},
                "labelColor": {"condition": {"test": "datum.value == 96 || datum.value == 216", "value": "#d8dbe3"}, "value": "#a9acb5"}}},
            "y": {"field": "hv", "type": "quantitative", "scale": {"domain": [-0.00025, 0.00029], "nice": false, "zero": false, "padding": 0},
              "axis": {"orient": "right", "values": [0], "format": ".5f", "grid": true, "tickSize": 4, "labelPadding": 5, "minExtent": 59, "maxExtent": 59, "title": null}},
            "y2": {"datum": 0},
            "color": {"field": "hc", "type": "nominal", "legend": null,
              "scale": {"domain": ["g", "lg", "r", "lr"], "range": ["#26a69a", "#b2dfdb", "#ff5252", "#ffcdd2"]}}
          }
        },
        {
          "data": {"name": "bars"},
          "mark": {"type": "line", "color": "#2196f3", "strokeWidth": 1.2},
          "encoding": {
            "x": {"field": "t", "type": "quantitative", "title": null},
            "y": {"field": "m", "type": "quantitative", "title": null}
          }
        },
        {
          "data": {"name": "bars"},
          "mark": {"type": "line", "color": "#ff8a1e", "strokeWidth": 1.2},
          "encoding": {
            "x": {"field": "t", "type": "quantitative", "title": null},
            "y": {"field": "s", "type": "quantitative", "title": null}
          }
        },
        {
          "data": {"name": "notes"},
          "transform": [{"filter": "datum.panel === 'macd'"}],
          "mark": {"type": "text", "align": "left", "baseline": "middle", "fontSize": 11.5, "color": "#e9a23b"},
          "encoding": {
            "x": {"field": "t", "type": "quantitative", "title": null},
            "y": {"field": "v", "type": "quantitative", "title": null},
            "text": {"field": "text"}
          }
        }
      ]
    }
  ]
}
